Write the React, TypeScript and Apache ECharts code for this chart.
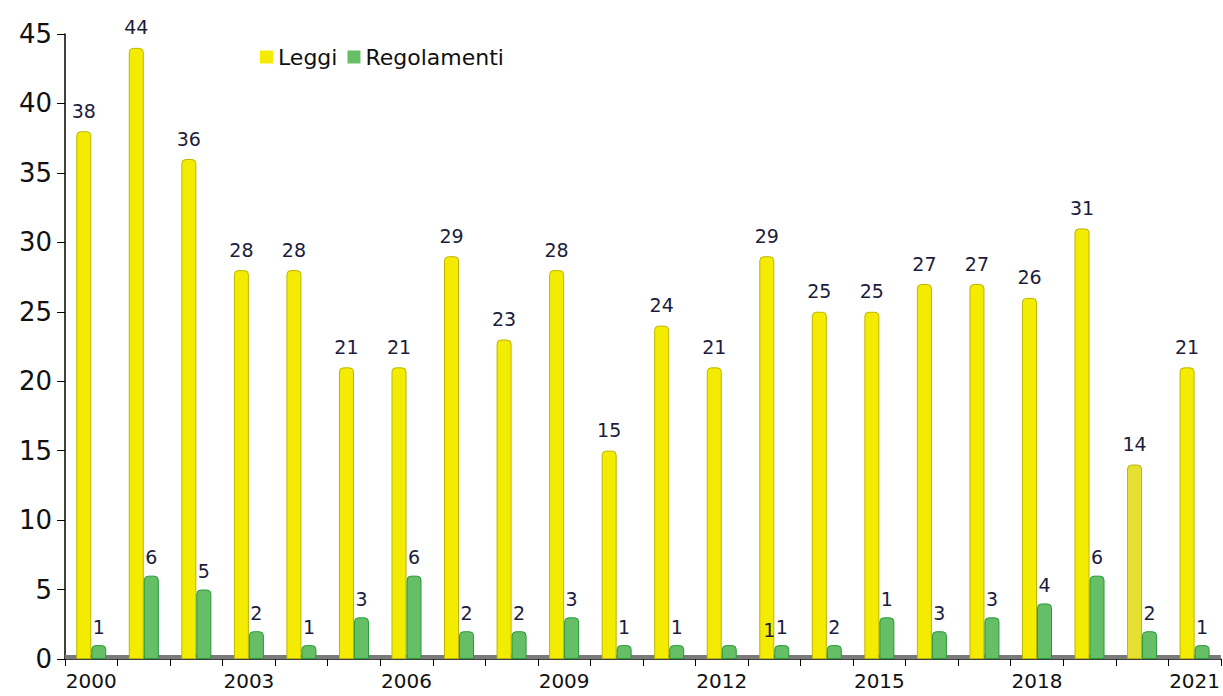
import React, { useEffect, useRef } from "react";
import * as echarts from "echarts";

const years = ["2000","2001","2002","2003","2004","2005","2006","2007","2008","2009","2010","2011","2012","2013","2014","2015","2016","2017","2018","2019","2020","2021"];
const leggi = [38,44,36,28,28,21,21,29,23,28,15,24,21,29,25,25,27,27,26,31,14,21];
const regolamenti = [1,6,5,2,1,3,6,2,2,3,1,1,1,1,1,3,2,3,4,6,2,1];
// labels as printed in the source chart
const regLabels = ["1","6","5","2","1","3","6","2","2","3","1","1","1","1","2","1","3","3","4","6","2","1"];
const yTicks = { min: 0, max: 45, interval: 5 };

const FONT = "DejaVu Sans";

export default function App() {
  const ref = useRef<HTMLDivElement>(null);
  useEffect(() => {
    if (!ref.current) return;
    const chart = echarts.init(ref.current, null, { renderer: "svg" });
    const labelStyle = { show: true, position: "top", distance: 11, color: "#1c1c3c", fontFamily: FONT, fontSize: 19 };
    chart.setOption({
      animation: false,
      backgroundColor: "#ffffff",
      grid: { left: 65, right: 0, top: 34, bottom: 37, containLabel: false },
      legend: {
        left: 255, top: 41, itemWidth: 13, itemHeight: 13, itemGap: 10,
        icon: "rect",
        itemStyle: { borderWidth: 0 },
        textStyle: { fontFamily: FONT, fontSize: 22, color: "#111" },
        data: ["Leggi", "Regolamenti"],
      },
      xAxis: {
        type: "category",
        data: years,
        axisLine: { lineStyle: { color: "#000", width: 1.5 } },
        axisTick: { show: true, length: 7, lineStyle: { color: "#000" }, interval: 0 },
        axisLabel: { interval: 2, fontFamily: FONT, fontSize: 20, color: "#111", margin: 12 },
      },
      yAxis: {
        type: "value",
        min: yTicks.min, max: yTicks.max, interval: yTicks.interval,
        splitLine: { show: false },
        axisLine: { show: true, lineStyle: { color: "#000", width: 1.5 } },
        axisTick: { show: true, length: 8, lineStyle: { color: "#000" } },
        axisLabel: { fontFamily: FONT, fontSize: 26, color: "#111", margin: 13 },
      },
      series: [
        {
          name: "Leggi",
          type: "bar",
          data: leggi.map((v, i) => (i === 20 ? { value: v, itemStyle: { color: "#e6e033" } } : v)),
          barWidth: 15,
          barGap: "0%",
          itemStyle: { color: "#f4ec00", borderColor: "#bdb400", borderWidth: 1, borderRadius: [4, 4, 0, 0] },
          label: labelStyle,
          markArea: {
            silent: true,
            itemStyle: { color: "#7a7a7a" },
            data: [[{ yAxis: 0 }, { yAxis: 0.28 }]],
          },
        },
        {
          name: "Regolamenti",
          type: "bar",
          data: regolamenti.map((v, i) =>
            i === 12 ? { value: v, label: { offset: [40, 3] } } : v
          ),
          barWidth: 15,
          itemStyle: { color: "#66bf66", borderColor: "#249a38", borderWidth: 1, borderRadius: [4, 4, 0, 0] },
          label: { ...labelStyle, distance: 9, formatter: (p: any) => regLabels[p.dataIndex] },
        },
      ],
    });
    return () => chart.dispose();
  }, []);
  return <div ref={ref} style={{ position: "absolute", left: 0, top: 0, width: 1223, height: 696 }} />;
}
